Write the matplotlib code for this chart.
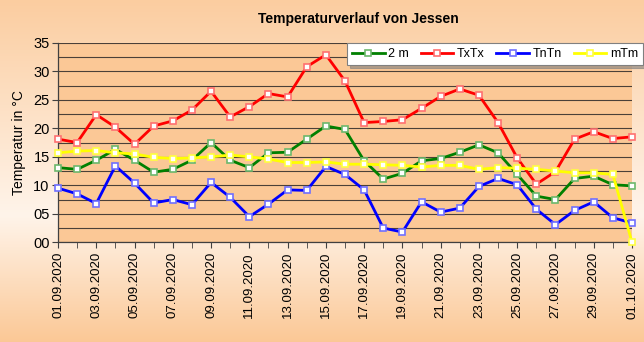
import numpy as np
import pandas as pd
import matplotlib.pyplot as plt
from matplotlib.ticker import MultipleLocator, FormatStrFormatter

plt.rcParams['font.family'] = ['Liberation Sans', 'DejaVu Sans']

days = pd.date_range("2020-09-01", "2020-10-01", freq="D").strftime("%d.%m.%Y").tolist()

t2m = [13.1, 12.8, 14.4, 16.3, 14.4, 12.3, 12.8, 14.4, 17.5, 14.4, 13.1, 15.7, 15.8, 18.1, 20.4, 19.8,
       14.3, 11.1, 12.1, 14.3, 14.7, 15.8, 17.1, 15.7, 11.9, 8.1, 7.5, 11.2, 11.6, 10.1, 9.9]
txtx = [18.1, 17.5, 22.4, 20.2, 17.2, 20.4, 21.3, 23.2, 26.5, 22.0, 23.8, 26.1, 25.5, 30.8, 32.9, 28.3,
        21.0, 21.2, 21.5, 23.5, 25.6, 26.9, 25.8, 21.0, 14.8, 10.2, 12.4, 18.1, 19.4, 18.2, 18.5]
tntn = [9.5, 8.5, 6.8, 13.4, 10.4, 6.9, 7.5, 6.6, 10.5, 7.9, 4.5, 6.7, 9.2, 9.1, 13.3, 11.9,
        9.2, 2.5, 1.8, 7.1, 5.3, 6.0, 9.8, 11.2, 10.1, 5.8, 3.1, 5.6, 7.1, 4.3, 3.4]
mtm = [15.7, 16.0, 16.1, 15.7, 15.5, 14.9, 14.7, 14.8, 15.0, 15.3, 15.0, 14.6, 14.0, 14.0, 14.1, 13.7,
       13.7, 13.6, 13.5, 13.2, 13.5, 13.5, 12.8, 13.1, 13.0, 12.8, 12.5, 12.2, 12.2, 11.9, 0.0]

series = [
    ("2 m", t2m, "#008000", "#6cb86c"),
    ("TxTx", txtx, "#ff0000", "#ff7070"),
    ("TnTn", tntn, "#0000ff", "#7070ff"),
    ("mTm", mtm, "#ffff00", "#ffff40"),
]

fig = plt.figure(figsize=(6.44, 3.42), dpi=100)

# background gradient
bg = fig.add_axes([0, 0, 1, 1], zorder=-10)
pos = np.linspace(0, 1, 342)
stops = [0.0, 0.63, 1.0]
cols = np.array([[251, 205, 160], [255, 244, 234], [251, 200, 150]]) / 255.0
grad = np.stack([np.interp(pos, stops, cols[:, c]) for c in range(3)], axis=-1)
img = np.repeat(grad[:, None, :], 644, axis=1)
bg.imshow(img, aspect='auto', extent=[0, 1, 0, 1], origin='upper')
bg.axis('off')

ax = fig.add_axes([58 / 644, 1 - 242.3 / 342, 574 / 644, 199.5 / 342])
ax.set_facecolor('#fbc896')

x = np.arange(len(days))
for name, vals, col, edge in series:
    ax.plot(x, vals, color=col, lw=2.0, marker='s', ms=5, mfc='white', mec=edge, mew=1.2,
            label=name, clip_on=False, zorder=3)

ax.set_xlim(0, len(days) - 1)
ax.set_ylim(0, 35)
ax.yaxis.set_major_locator(MultipleLocator(5))
ax.yaxis.set_minor_locator(MultipleLocator(2.5))
ax.yaxis.set_major_formatter(FormatStrFormatter('%02d'))
ax.grid(True, which='both', axis='y', color='#4a4038', lw=0.8, zorder=0)
ax.set_axisbelow(True)

ax.set_xticks(x[::2])
ax.set_xticklabels(days[::2], rotation=90, fontsize=9.5)
ax.set_xticks(x[1::2], minor=True)
ax.tick_params(axis='x', which='both', length=4, color='#404040', direction='out', pad=3)
ax.tick_params(axis='y', which='major', length=4, color='#404040', labelsize=10.5, pad=2)
ax.tick_params(axis='y', which='minor', length=0)

for s in ['top', 'right']:
    ax.spines[s].set_visible(False)
for s in ['left', 'bottom']:
    ax.spines[s].set_color('#404040')
    ax.spines[s].set_linewidth(0.9)

ax.set_ylabel("Temperatur in °C", fontsize=10, labelpad=5)

fig.text(358 / 644, 1 - 19 / 342, "Temperaturverlauf von Jessen", ha='center', va='center',
         fontsize=10, fontweight='bold')

leg = fig.legend(loc='upper left', bbox_to_anchor=(347 / 644, 1 - 66 / 342, 296 / 644, 23 / 342),
                 mode='expand', ncol=4, fontsize=9, frameon=True, fancybox=False,
                 handlelength=2.6, handletextpad=0.3, columnspacing=1.2, borderaxespad=0,
                 borderpad=0.4, shadow={'color': '#808080', 'alpha': 0.6})
leg.get_frame().set_edgecolor('#808080')
leg.get_frame().set_linewidth(0.8)
leg.get_frame().set_facecolor('white')

fig.savefig("out.png", dpi=100)
